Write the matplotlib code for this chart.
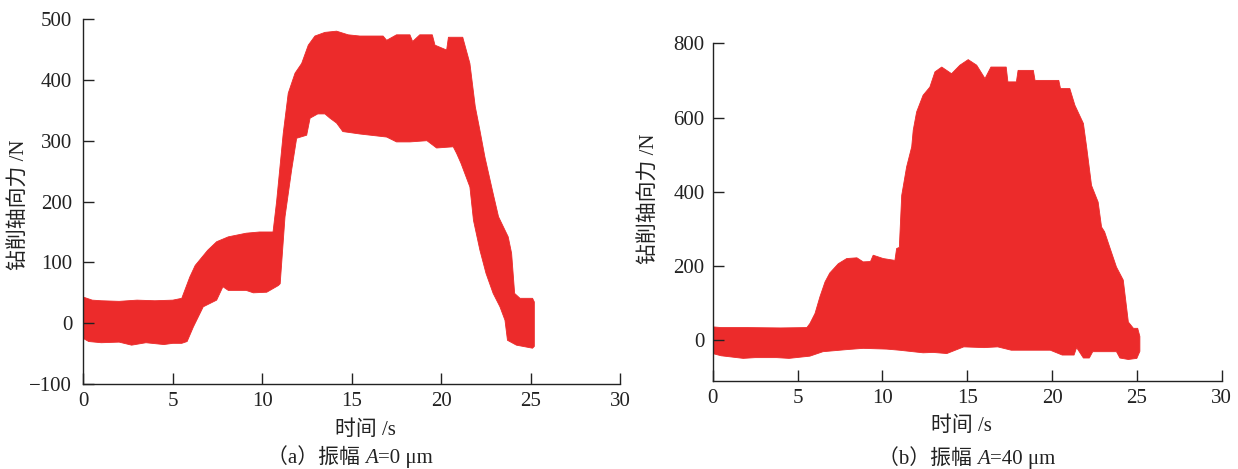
import numpy as np
import matplotlib.pyplot as plt
from matplotlib.offsetbox import TextArea, HPacker, AnchoredOffsetbox

FONT = ["Liberation Serif", "Noto Sans CJK SC"]
plt.rcParams["font.family"] = FONT
plt.rcParams["font.size"] = 15
plt.rcParams["axes.unicode_minus"] = True

RED = "#ec2b2b"

# (a) A = 0 um : upper / lower envelope of axial force
a_t_up = [0, 0.5, 1.0, 2.0, 3.0, 4.0, 5.0, 5.5, 5.95, 6.25, 6.95, 7.45, 8.1, 9.1,
          9.85, 10.6, 10.8, 11.17, 11.45, 11.83, 12.2, 12.57, 12.94, 13.5, 14.15,
          14.8, 15.45, 16.75, 16.95, 17.5, 18.25, 18.4, 18.8, 19.5, 19.65, 20.3,
          20.4, 21.2, 21.6, 21.9, 22.16, 22.44, 22.9, 23.2, 23.74, 23.93, 24.1,
          24.4, 25.1, 25.2]
a_up = [43, 38, 37, 36, 38, 37, 38, 41, 76, 95, 120, 134, 142, 148,
        150, 150, 200, 312, 378, 411, 427, 457, 472, 478, 480,
        474, 472, 472, 465, 474, 474, 463, 474, 474, 457, 449,
        470, 470, 427, 356, 317, 273, 213, 175, 142, 115, 49,
        41, 41, 35]
a_t_lo = [0, 0.3, 1.0, 2.0, 2.7, 3.5, 4.5, 5.0, 5.5, 5.8, 6.15, 6.7, 7.45, 7.8,
          8.1, 9.1, 9.5, 10.25, 10.9, 11.0, 11.27, 11.64, 11.92, 12.48, 12.67,
          13.1, 13.5, 13.78, 14.15, 14.5, 15.46, 16.95, 17.5, 18.25, 19.2, 19.74,
          20.67, 20.86, 21.1, 21.6, 21.8, 22.16, 22.5, 22.9, 23.28, 23.56, 23.7,
          24.2, 25.1, 25.2]
a_lo = [-25, -30, -32, -31, -36, -32, -35, -33, -33, -30, -6, 27, 38, 60,
        54, 54, 50, 51, 62, 65, 175, 252, 304, 309, 337,
        344, 344, 337, 329, 315, 311, 306, 298, 298, 300, 288,
        290, 279, 263, 224, 169, 120, 82, 49, 27, 5, -28,
        -36, -41, -38]

# (b) A = 40 um
b_t_up = [0, 0.5, 2.0, 4.0, 5.55, 5.73, 6.03, 6.32, 6.62, 6.9, 7.4, 7.9, 8.5,
          8.87, 9.3, 9.46, 10.05, 10.74, 10.84, 11.0, 11.14, 11.43, 11.73, 11.82,
          12.02, 12.4, 12.8, 13.1, 13.5, 14.08, 14.57, 15.06, 15.56, 16.05, 16.4,
          17.3, 17.4, 17.9, 18.0, 18.9, 19.0, 20.4, 20.5, 21.05, 21.35, 21.85,
          22.04, 22.33, 22.72, 22.92, 23.1, 23.4, 23.8, 24.2, 24.5, 24.8, 25.05,
          25.18]
b_up = [36, 34, 34, 33, 34, 45, 72, 117, 157, 181, 206, 220, 222,
        211, 212, 229, 220, 215, 247, 250, 390, 467, 521, 566,
        615, 660, 682, 723, 736, 718, 741, 756, 741, 705, 736,
        736, 696, 696, 727, 727, 700, 700, 678, 678, 633, 584,
        521, 417, 372, 305, 292, 251, 197, 162, 49, 32, 32,
        10]
b_t_lo = [0, 0.5, 1.8, 2.5, 3.77, 4.5, 5.73, 6.5, 8.0, 8.87, 10.25, 11.0, 12.4,
          13.0, 13.8, 14.8, 16.0, 16.8, 17.6, 19.9, 20.6, 21.3, 21.45, 21.85,
          22.2, 22.4, 23.8, 24.0, 24.5, 25.0, 25.18]
b_lo = [-36, -42, -49, -47, -47, -49, -43, -31, -25, -22, -24, -27, -34,
        -33, -36, -18, -20, -18, -27, -27, -40, -40, -20, -48,
        -48, -31, -31, -48, -52, -49, -30]

x_ticks = [0, 5, 10, 15, 20, 25, 30]
a_y_ticks = [-100, 0, 100, 200, 300, 400, 500]
b_y_ticks = [0, 200, 400, 600, 800]


def band(ax, t_up, up, t_lo, lo):
    xs = np.concatenate([t_up, t_lo[::-1]])
    ys = np.concatenate([up, lo[::-1]])
    ax.fill(xs, ys, color=RED, lw=0.6, ec=RED)


def style(ax, ylim, yticks, ypad):
    ax.set_xlim(0, 30)
    ax.set_ylim(*ylim)
    ax.set_xticks(x_ticks)
    ax.set_yticks(yticks)
    for s in ["top", "right"]:
        ax.spines[s].set_visible(False)
    for s in ["left", "bottom"]:
        ax.spines[s].set_linewidth(1.0)
        ax.spines[s].set_color("#222222")
    ax.tick_params(direction="in", length=8, width=1, colors="#222222",
                   labelsize=15)
    ax.tick_params(axis="x", pad=6)
    ax.tick_params(axis="y", pad=ypad)


def caption(fig, xc, yc, tag, amp):
    props = dict(fontsize=15, family=FONT, color="#222222")
    parts = [TextArea(f"（{tag}）振幅 ", textprops=props),
             TextArea("A", textprops=dict(props, style="italic")),
             TextArea(f"={amp} μm", textprops=props)]
    box = HPacker(children=parts, align="baseline", pad=0, sep=0)
    anch = AnchoredOffsetbox(loc="center", child=box, pad=0, borderpad=0,
                             frameon=False, bbox_to_anchor=(xc, yc),
                             bbox_transform=fig.transFigure)
    fig.add_artist(anch)


def main():
    fig = plt.figure(figsize=(12.38, 4.69), dpi=100)

    ax1 = fig.add_axes([0.0673, 0.181, 0.4337, 0.7785])
    band(ax1, np.array(a_t_up), np.array(a_up), np.array(a_t_lo), np.array(a_lo))
    style(ax1, (-100, 500), a_y_ticks, 8)
    ax1.set_xlabel("时间 /s", va="center", color="#222222")
    ax1.xaxis.set_label_coords(0.525, -0.126)
    ax1.set_ylabel("钻削轴向力 /N", va="center", color="#222222")
    ax1.yaxis.set_label_coords(-0.118, 0.49)

    ax2 = fig.add_axes([0.5757, 0.1876, 0.4111, 0.7201])
    band(ax2, np.array(b_t_up), np.array(b_up), np.array(b_t_lo), np.array(b_lo))
    style(ax2, (-110, 800), b_y_ticks, 6)
    ax2.set_xlabel("时间 /s", va="center", color="#222222")
    ax2.xaxis.set_label_coords(0.488, -0.133)
    ax2.set_ylabel("钻削轴向力 /N", va="center", color="#222222")
    ax2.yaxis.set_label_coords(-0.123, 0.54)

    caption(fig, 0.2825, 0.0235, "a", "0")
    caption(fig, 0.781, 0.021, "b", "40")

    fig.savefig("out.png", dpi=100)


if __name__ == "__main__":
    main()
